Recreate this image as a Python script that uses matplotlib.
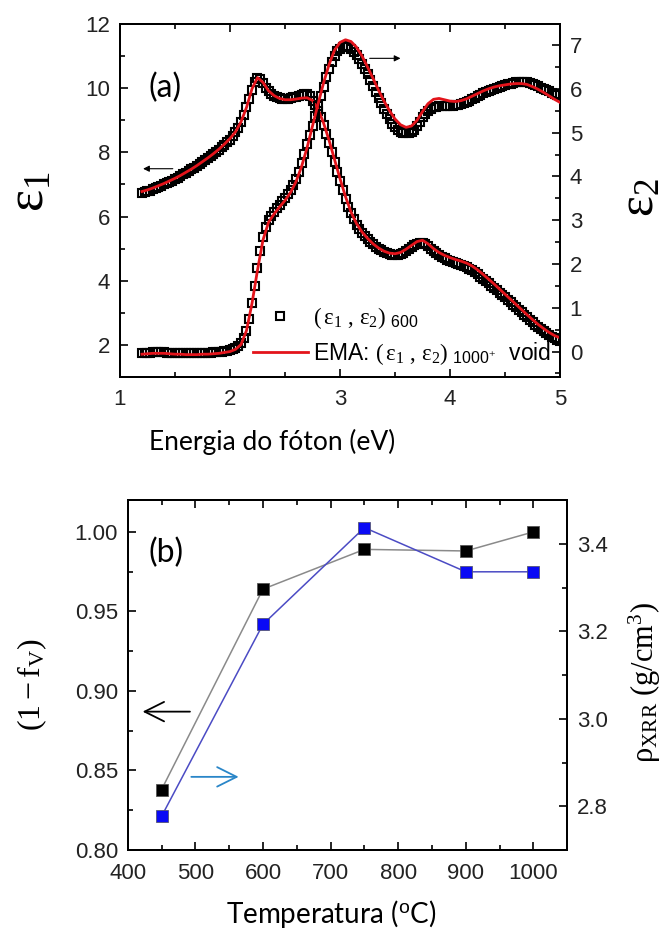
import numpy as np
import matplotlib
matplotlib.use("Agg")
import matplotlib.pyplot as plt
from matplotlib.lines import Line2D
from matplotlib.ticker import MultipleLocator, FormatStrFormatter

plt.rcParams['font.family'] = ['Liberation Sans', 'DejaVu Sans']
plt.rcParams['mathtext.fontset'] = 'custom'
plt.rcParams['mathtext.rm'] = 'Liberation Serif'
plt.rcParams['mathtext.it'] = 'Liberation Serif:italic'
plt.rcParams['mathtext.sf'] = 'Liberation Sans'

# ---------------- (a) dielectric function, sample annealed at 600 C ----------------
eps1_600 = [
    6.72, 6.75, 6.78, 6.81, 6.85, 6.88, 6.92, 6.96, 7.00, 7.04, 7.08, 7.12,
    7.17, 7.21, 7.26, 7.31, 7.36, 7.41, 7.47, 7.52, 7.58, 7.64, 7.70, 7.76,
    7.82, 7.88, 7.94, 8.01, 8.08, 8.16, 8.24, 8.32, 8.40, 8.50, 8.62, 8.77,
    8.95, 9.16, 9.40, 9.67, 9.95, 10.20, 10.32, 10.30, 10.15, 10.01, 9.90, 9.81,
    9.75, 9.71, 9.68, 9.66, 9.66, 9.67, 9.68, 9.71, 9.74, 9.77, 9.80, 9.82,
    9.82, 9.75, 9.60, 9.47, 9.30, 9.09, 8.85, 8.58, 8.30, 8.00, 7.70, 7.40,
    7.10, 6.82, 6.55, 6.31, 6.10, 5.91, 5.75, 5.61, 5.50, 5.39, 5.30, 5.21,
    5.13, 5.06, 5.00, 4.95, 4.90, 4.86, 4.83, 4.81, 4.80, 4.81, 4.83, 4.87,
    4.92, 4.98, 5.05, 5.11, 5.15, 5.18, 5.18, 5.14, 5.08, 5.00, 4.92, 4.86,
    4.80, 4.75, 4.70, 4.66, 4.62, 4.59, 4.56, 4.53, 4.50, 4.47, 4.43, 4.38,
    4.33, 4.27, 4.20, 4.13, 4.06, 3.99, 3.92, 3.85, 3.78, 3.70, 3.63, 3.55,
    3.48, 3.40, 3.33, 3.25, 3.17, 3.09, 3.01, 2.93, 2.86, 2.78, 2.71, 2.63,
    2.56, 2.49, 2.42, 2.36, 2.30, 2.25, 2.20, 2.16, 2.12,
]
eps2_600 = [
    -0.04, -0.04, -0.03, -0.03, -0.02, -0.02, -0.02, -0.02, -0.02, -0.03, -0.03, -0.03,
    -0.04, -0.04, -0.04, -0.04, -0.04, -0.04, -0.04, -0.04, -0.04, -0.04, -0.03, -0.03,
    -0.03, -0.03, -0.02, -0.02, -0.01, 0.00, 0.01, 0.02, 0.04, 0.06, 0.09, 0.13,
    0.19, 0.30, 0.48, 0.75, 1.10, 1.50, 1.90, 2.30, 2.62, 2.85, 3.00, 3.10,
    3.19, 3.27, 3.35, 3.43, 3.51, 3.60, 3.69, 3.80, 3.93, 4.10, 4.30, 4.52,
    4.75, 4.95, 5.15, 5.38, 5.60, 5.83, 6.05, 6.26, 6.45, 6.62, 6.76, 6.86,
    6.92, 6.96, 6.97, 6.95, 6.91, 6.85, 6.77, 6.68, 6.57, 6.45, 6.33, 6.20,
    6.07, 5.93, 5.80, 5.67, 5.55, 5.42, 5.30, 5.20, 5.12, 5.06, 5.02, 4.99,
    4.98, 4.99, 5.02, 5.07, 5.15, 5.25, 5.35, 5.43, 5.50, 5.55, 5.58, 5.59,
    5.60, 5.60, 5.60, 5.60, 5.60, 5.61, 5.62, 5.63, 5.65, 5.67, 5.70, 5.73,
    5.77, 5.80, 5.84, 5.87, 5.90, 5.93, 5.96, 5.98, 6.00, 6.03, 6.05, 6.07,
    6.09, 6.11, 6.12, 6.14, 6.15, 6.16, 6.16, 6.16, 6.15, 6.13, 6.11, 6.09,
    6.06, 6.03, 6.00, 5.97, 5.94, 5.91, 5.88, 5.86, 5.85,
]
energy_600 = np.linspace(1.2, 5.0, len(eps1_600))

# EMA model: 1000 C film mixed with void
eps1_ema = [
    6.78, 6.83, 6.89, 6.96, 7.03, 7.11, 7.19, 7.28, 7.38, 7.48, 7.59, 7.71,
    7.83, 7.96, 8.10, 8.26, 8.43, 8.64, 8.95, 9.40, 9.98, 10.33, 10.18, 9.92,
    9.77, 9.68, 9.64, 9.64, 9.66, 9.69, 9.70, 9.62, 9.35, 8.92, 8.38, 7.78,
    7.18, 6.62, 6.14, 5.78, 5.52, 5.32, 5.15, 5.02, 4.92, 4.86, 4.84, 4.88,
    4.98, 5.10, 5.22, 5.26, 5.15, 5.00, 4.88, 4.79, 4.72, 4.66, 4.61, 4.55,
    4.46, 4.34, 4.20, 4.05, 3.90, 3.74, 3.58, 3.42, 3.26, 3.10, 2.94, 2.79,
    2.64, 2.51, 2.39, 2.29, 2.22,
]
eps2_ema = [
    -0.06, -0.05, -0.04, -0.04, -0.04, -0.05, -0.06, -0.06, -0.07, -0.07, -0.07, -0.06,
    -0.06, -0.05, -0.04, -0.02, 0.00, 0.05, 0.16, 0.48, 1.10, 1.86, 2.55, 2.95,
    3.14, 3.30, 3.45, 3.63, 3.88, 4.22, 4.65, 5.15, 5.65, 6.13, 6.55, 6.88,
    7.06, 7.12, 7.08, 6.95, 6.75, 6.50, 6.24, 5.97, 5.72, 5.50, 5.31, 5.18,
    5.12, 5.15, 5.28, 5.48, 5.66, 5.76, 5.78, 5.75, 5.72, 5.71, 5.73, 5.77,
    5.83, 5.89, 5.95, 6.00, 6.04, 6.07, 6.09, 6.11, 6.12, 6.12, 6.10, 6.05,
    5.99, 5.92, 5.84, 5.76, 5.69,
]
energy_ema = np.linspace(1.2, 5.0, len(eps1_ema))

# ---------------- (b) void fraction and XRR density ----------------
temperature = [450, 600, 750, 900, 1000]
one_minus_fv = [0.838, 0.964, 0.989, 0.988, 1.000]
rho_xrr = [2.777, 3.216, 3.437, 3.336, 3.336]

RED = '#e3141b'
TICK_COLOR = '#222222'
LABEL_FONT = 'Lato'

fig = plt.figure(figsize=(6.67, 9.34), dpi=100)


def style_axis(ax):
    ax.tick_params(which='both', direction='in', colors='black',
                   labelcolor=TICK_COLOR, labelsize=16, width=1.2)
    ax.tick_params(which='major', length=6)
    ax.tick_params(which='minor', length=3.5)
    for s in ax.spines.values():
        s.set_linewidth(1.4)


# ---- panel (a)
axa = fig.add_axes([0.1799, 0.5964, 0.6597, 0.3779])
axa2 = axa.twinx()

mk = dict(marker='s', ls='none', ms=6.4, mfc='none', mec='black', mew=1.5)
axa.plot(energy_600, eps1_600, zorder=2, **mk)
axa.plot(energy_ema, eps1_ema, color=RED, lw=2.0, zorder=3)
axa2.plot(energy_600, eps2_600, zorder=2, **mk)
axa2.plot(energy_ema, eps2_ema, color=RED, lw=2.0, zorder=3)

axa.set_xlim(1, 5)
axa.set_ylim(1, 12)
axa2.set_ylim(-0.58, 7.48)
axa.xaxis.set_major_locator(MultipleLocator(1))
axa.xaxis.set_minor_locator(MultipleLocator(0.5))
axa.yaxis.set_major_locator(MultipleLocator(2))
axa.yaxis.set_minor_locator(MultipleLocator(1))
axa2.yaxis.set_major_locator(MultipleLocator(1))
axa2.yaxis.set_minor_locator(MultipleLocator(0.5))
style_axis(axa)
style_axis(axa2)
axa.tick_params(axis='x', which='both', top=True, pad=9)
axa.tick_params(axis='y', which='both', right=False, pad=7)
axa2.tick_params(axis='y', which='both', right=True, left=False, pad=7)

# direction arrows
axa.annotate('', xy=(1.21, 7.49), xytext=(1.48, 7.49),
             arrowprops=dict(arrowstyle='-|>', color='black', lw=0.8,
                             mutation_scale=9, shrinkA=0, shrinkB=0))
axa.annotate('', xy=(3.55, 10.93), xytext=(3.27, 10.93),
             arrowprops=dict(arrowstyle='-|>', color='black', lw=0.8,
                             mutation_scale=9, shrinkA=0, shrinkB=0))

axa.text(0.102, 0.82, '(a)', transform=axa.transAxes, fontsize=23,
         family=LABEL_FONT, ha='center', va='center')

handles = [Line2D([], [], **mk), Line2D([], [], color=RED, lw=2.0)]
labels = [r'$(\,\mathrm{\varepsilon}_1\ ,\,\mathrm{\varepsilon}_2)\ _{\mathsf{600}}$',
          r'EMA: $(\,\mathrm{\varepsilon}_1\ ,\,\mathrm{\varepsilon}_2)\ _{\mathsf{1000}^{+}}$  void']
leg = axa.legend(handles, labels, loc='lower left', bbox_to_anchor=(0.27, -0.01),
                 frameon=False, fontsize=16.5, handlelength=2.4, handletextpad=0.25,
                 labelspacing=0.4, borderaxespad=0.2)

fig.text(30 / 667, 1 - 192 / 934, r'$\mathrm{\varepsilon}_1$', rotation=90,
         fontsize=38, ha='center', va='center')
fig.text(640 / 667, 1 - 198 / 934, r'$\mathrm{\varepsilon}_2$', rotation=90,
         fontsize=36, ha='center', va='center')
fig.text(272 / 667, 1 - 442 / 934, 'Energia do fóton (eV)', fontsize=19,
         family=LABEL_FONT, ha='center', va='center')

# ---- panel (b)
axb = fig.add_axes([0.1915, 0.0899, 0.659, 0.3747])
axb2 = axb.twinx()
axb.plot(temperature, one_minus_fv, color='#8a8a8a', lw=1.1, marker='s', ms=8.8,
         mfc='black', mec='#555555', mew=0.6)
axb2.plot(temperature, rho_xrr, color='#4b4bc4', lw=1.1, marker='s', ms=8.8,
          mfc='#0a0af5', mec='#555577', mew=0.6)

axb.set_xlim(400, 1050)
axb.set_ylim(0.80, 1.02)
axb2.set_ylim(2.7, 3.5)
axb.xaxis.set_major_locator(MultipleLocator(100))
axb.xaxis.set_minor_locator(MultipleLocator(50))
axb.yaxis.set_major_locator(MultipleLocator(0.05))
axb.yaxis.set_minor_locator(MultipleLocator(0.025))
axb.yaxis.set_major_formatter(FormatStrFormatter('%.2f'))
axb2.yaxis.set_major_locator(MultipleLocator(0.2))
axb2.yaxis.set_minor_locator(MultipleLocator(0.1))
axb2.yaxis.set_major_formatter(FormatStrFormatter('%.1f'))
style_axis(axb)
style_axis(axb2)
axb.tick_params(axis='x', which='both', top=True, pad=9)
axb.tick_params(axis='y', which='both', right=False, pad=7)
axb2.tick_params(axis='y', which='both', right=True, left=False, pad=7)

axb.annotate('', xy=(422, 0.887), xytext=(492, 0.887),
             arrowprops=dict(arrowstyle='->, head_length=0.7, head_width=0.35',
                             color='black', lw=1.3, mutation_scale=20,
                             shrinkA=0, shrinkB=0))
axb.annotate('', xy=(564, 0.846), xytext=(494, 0.846),
             arrowprops=dict(arrowstyle='->, head_length=0.7, head_width=0.35',
                             color='#2a86c8', lw=1.3, mutation_scale=20,
                             shrinkA=0, shrinkB=0))

axb.text(0.087, 0.85, '(b)', transform=axb.transAxes, fontsize=23,
         family=LABEL_FONT, ha='center', va='center')

fig.text(32 / 667, 1 - 684 / 934, r'$\mathrm{(1-f_V)}$', rotation=90,
         fontsize=23, ha='center', va='center')
fig.text(645 / 667, 1 - 682 / 934, r'$\mathrm{\rho_{XRR}\ (g/cm^3)}$', rotation=90,
         fontsize=22, ha='center', va='center')
fig.text(331 / 667, 1 - 914 / 934, r'Temperatura ($^{\mathsf{o}}$C)', fontsize=20,
         family=LABEL_FONT, ha='center', va='center')

fig.savefig('out.png', dpi=100)
